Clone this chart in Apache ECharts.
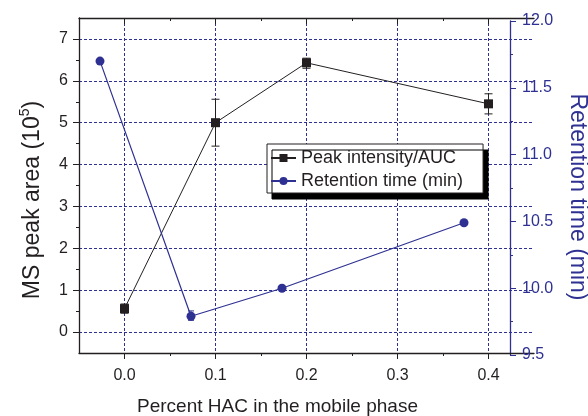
<!DOCTYPE html>
<html><head><meta charset="utf-8">
<script src="https://cdn.jsdelivr.net/npm/echarts@6/dist/echarts.min.js"></script>
<style>html,body{margin:0;padding:0;background:#fff}#c{width:588px;height:416px}</style>
</head><body><div id="c"></div>
<script>
// ---- data ----
const percentHAC = [0.0, 0.1, 0.2, 0.4];
const peakIntensity = [0.56, 5.0, 6.43, 5.45];
const peakErrLow = [0.45, 4.44, 6.30, 5.21];
const peakErrHigh = [0.67, 5.56, 6.54, 5.69];
const retentionTime = [11.70, 9.79, 10.0, 10.49];
const rtErrLow = [11.70, 9.76, 10.0, 10.49];
const rtErrHigh = [11.70, 9.83, 10.0, 10.49];
const xMajorTicks = [0, 0.1, 0.2, 0.3, 0.4];
const xMinorTicks = [0.05, 0.15, 0.25, 0.35];
const leftMajorTicks = [0, 1, 2, 3, 4, 5, 6, 7];
const leftMinorTicks = [0.5, 1.5, 2.5, 3.5, 4.5, 5.5, 6.5];

const BLACK = '#231f20';
const BLUE = '#2e3192';
const FONT = '"Liberation Sans", Arial, sans-serif';

function errRender(color, cap) {
  return function (params, api) {
    const x = api.value(0), lo = api.value(1), hi = api.value(2);
    const p1 = api.coord([x, lo]), p2 = api.coord([x, hi]);
    const st = { stroke: color, lineWidth: 1 };
    return { type: 'group', children: [
      { type: 'line', shape: { x1: p1[0], y1: p1[1], x2: p2[0], y2: p2[1] }, style: st },
      { type: 'line', shape: { x1: p1[0] - cap, y1: p1[1], x2: p1[0] + cap, y2: p1[1] }, style: st },
      { type: 'line', shape: { x1: p2[0] - cap, y1: p2[1], x2: p2[0] + cap, y2: p2[1] }, style: st }
    ] };
  };
}

const chart = echarts.init(document.getElementById('c'), null, { renderer: 'canvas' });
const noLine = { show: false, onZero: false };

const option = {
  animation: false,
  textStyle: { fontFamily: FONT },
  grid: [
    { left: 79, top: 18, right: 54, bottom: 63, outerBoundsMode: 'none' },
    { left: 79, top: 21, right: 78, bottom: 61, outerBoundsMode: 'none' }
  ],
  graphic: [{
    type: 'text', rotation: Math.PI / 2,
    x: 31, y: 200,
    style: {
      text: '{n|MS peak area (10}{s|5}{n|)}',
      align: 'center', verticalAlign: 'middle',
      rich: { n: { fontSize: 23, fill: BLACK, fontFamily: FONT, verticalAlign: 'bottom' },
              s: { fontSize: 14, fill: BLACK, fontFamily: FONT, verticalAlign: 'top', padding: [0, 0, 12, 0] } }
    }
  }],
  xAxis: [
    { // 0 bottom main
      type: 'value', gridIndex: 0, position: 'bottom', min: -0.05, max: 0.45,
      axisLine: { show: true, onZero: false, lineStyle: { color: BLACK, width: 1.3 } },
      axisTick: { show: true, length: 6, inside: false, customValues: xMajorTicks, lineStyle: { color: BLACK } },
      axisLabel: { show: true, customValues: xMajorTicks, margin: 15, color: BLACK, fontSize: 16, fontFamily: FONT,
        formatter: v => v.toFixed(1) },
      splitLine: { show: true, lineStyle: { color: BLUE, type: [3, 2], width: 1 } },
      name: 'Percent HAC in the mobile phase', nameLocation: 'middle', nameGap: 44,
      nameTextStyle: { fontSize: 19, color: BLACK, fontFamily: FONT, padding: [0, 58, 0, 0] }
    },
    { // 1 bottom minor ticks
      type: 'value', gridIndex: 0, position: 'bottom', min: -0.05, max: 0.45,
      axisLine: noLine, axisLabel: { show: false }, splitLine: { show: false },
      axisTick: { show: true, length: 3, customValues: xMinorTicks, lineStyle: { color: BLACK } }
    },
    { // 2 top major
      type: 'value', gridIndex: 0, position: 'top', min: -0.05, max: 0.45,
      axisLine: { show: true, onZero: false, lineStyle: { color: BLACK, width: 1.3 } },
      axisLabel: { show: false }, splitLine: { show: false },
      axisTick: { show: true, inside: true, length: 6, customValues: xMajorTicks, lineStyle: { color: BLACK } }
    },
    { // 3 top minor
      type: 'value', gridIndex: 0, position: 'top', min: -0.05, max: 0.45,
      axisLine: noLine, axisLabel: { show: false }, splitLine: { show: false },
      axisTick: { show: true, inside: true, length: 3, customValues: xMinorTicks, lineStyle: { color: BLACK } }
    },
    { // 4 blue layer x (hidden)
      type: 'value', gridIndex: 1, position: 'bottom', min: -0.02308, max: 0.45055,
      axisLine: noLine, axisLabel: { show: false }, axisTick: { show: false }, splitLine: { show: false } }
  ],
  yAxis: [
    { // 0 left main
      type: 'value', gridIndex: 0, position: 'left', min: -0.5, max: 7.5,
      axisLine: { show: true, onZero: false, lineStyle: { color: BLACK, width: 1.3 } },
      axisTick: { show: true, length: 6, customValues: leftMajorTicks, lineStyle: { color: BLACK } },
      axisLabel: { show: true, customValues: leftMajorTicks, margin: 11, color: BLACK, fontSize: 16, fontFamily: FONT },
      splitLine: { show: true, lineStyle: { color: BLUE, type: [3, 2], width: 1 } }
    },
    { // 1 left minor ticks
      type: 'value', gridIndex: 0, position: 'left', min: -0.5, max: 7.5,
      axisLine: noLine, axisLabel: { show: false }, splitLine: { show: false },
      axisTick: { show: true, length: 3, customValues: leftMinorTicks, lineStyle: { color: BLACK } }
    },
    { // 2 right blue axis
      type: 'value', gridIndex: 1, position: 'right', min: 9.5, max: 12.0, interval: 0.5,
      axisLine: { show: true, onZero: false, lineStyle: { color: BLUE, width: 1.3 } },
      axisTick: { show: true, length: 6, lineStyle: { color: BLUE } },
      minorTick: { show: true, splitNumber: 2, length: 3, lineStyle: { color: BLUE } },
      axisLabel: { show: true, margin: 12, color: BLUE, fontSize: 16, fontFamily: FONT, formatter: v => v.toFixed(1) },
      splitLine: { show: false },
      name: 'Retention time (min)', nameLocation: 'middle', nameGap: 56, nameRotate: -90,
      nameTextStyle: { fontSize: 23, color: BLUE, fontFamily: FONT, padding: [0, 0, 0, 18] }
    }
  ],
  legend: {
    orient: 'vertical', left: 267, top: 144,
    data: ['Peak intensity/AUC', 'Retention time (min)'],
    itemWidth: 25, itemHeight: 10, itemGap: 5,
    padding: [5, 20, 3, 3],
    backgroundColor: '#fff', borderColor: BLACK, borderWidth: 1,
    shadowColor: '#000', shadowBlur: 0, shadowOffsetX: 5, shadowOffsetY: 6,
    textStyle: { fontSize: 18, color: BLACK, fontFamily: FONT }
  },
  series: [
    { type: 'custom', xAxisIndex: 0, yAxisIndex: 0, renderItem: errRender(BLACK, 4), z: 3,
      data: percentHAC.map((x, i) => [x, peakErrLow[i], peakErrHigh[i]]) },
    { type: 'custom', xAxisIndex: 4, yAxisIndex: 2, renderItem: errRender(BLUE, 3), z: 3,
      data: percentHAC.map((x, i) => [x, rtErrLow[i], rtErrHigh[i]]) },
    { name: 'Peak intensity/AUC', type: 'line', xAxisIndex: 0, yAxisIndex: 0, z: 4,
      data: percentHAC.map((x, i) => [x, peakIntensity[i]]),
      symbol: 'rect', symbolSize: 9, lineStyle: { color: BLACK, width: 1 },
      itemStyle: { color: BLACK } },
    { name: 'Retention time (min)', type: 'line', xAxisIndex: 4, yAxisIndex: 2, z: 4,
      data: percentHAC.map((x, i) => [x, retentionTime[i]]),
      symbol: 'circle', symbolSize: 9, lineStyle: { color: BLUE, width: 1.2 },
      itemStyle: { color: BLUE } }
  ]
};
chart.setOption(option);
</script>
</body></html>
